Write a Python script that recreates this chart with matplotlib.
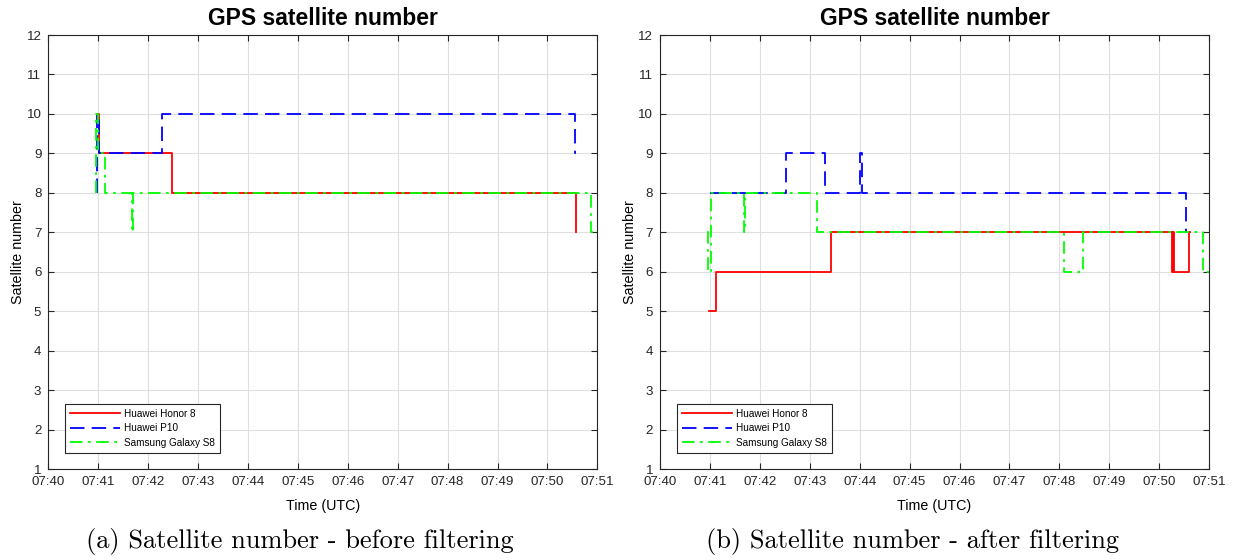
import matplotlib.pyplot as plt

# time in minutes after 07:40 (UTC), satellite counts given as step change points
honor8_raw_t = [0.99, 1.01, 2.48, 10.57, 10.58]
honor8_raw_n = [10, 9, 8, 7, 7]
p10_raw_t = [0.97, 0.98, 1.01, 2.27, 10.55, 10.57]
p10_raw_n = [8, 10, 9, 10, 9, 9]
s8_raw_t = [0.95, 0.96, 1.00, 1.13, 1.68, 1.70, 10.87, 11.0]
s8_raw_n = [8, 10, 9, 8, 7, 8, 7, 7]

honor8_filt_t = [0.99, 1.12, 3.42, 10.26, 10.28, 10.30, 10.59, 10.61]
honor8_filt_n = [5, 6, 7, 6, 7, 6, 7, 7]
p10_filt_t = [1.00, 2.53, 3.30, 4.00, 4.04, 10.53, 10.56]
p10_filt_n = [8, 9, 8, 9, 8, 7, 7]
s8_filt_t = [0.95, 0.97, 1.02, 1.68, 1.70, 3.15, 8.10, 8.47, 10.87, 11.0]
s8_filt_n = [7, 6, 8, 7, 8, 7, 6, 7, 6, 6]

time_labels = ['07:40', '07:41', '07:42', '07:43', '07:44', '07:45',
               '07:46', '07:47', '07:48', '07:49', '07:50', '07:51']
device_names = ['Huawei Honor 8', 'Huawei P10', 'Samsung Galaxy S8']
captions = ['(a) Satellite number - before filtering',
            '(b) Satellite number - after filtering']

plt.rcParams['font.family'] = ['Liberation Sans', 'DejaVu Sans']

fig = plt.figure(figsize=(12.33, 5.6), dpi=100)
ax_a = fig.add_axes([0.0392, 0.1625, 0.4453, 0.775])
ax_b = fig.add_axes([0.5353, 0.1625, 0.4453, 0.775])

panels = [
    (ax_a, [(honor8_raw_t, honor8_raw_n), (p10_raw_t, p10_raw_n), (s8_raw_t, s8_raw_n)]),
    (ax_b, [(honor8_filt_t, honor8_filt_n), (p10_filt_t, p10_filt_n), (s8_filt_t, s8_filt_n)]),
]
styles = [
    dict(color='#ff0000', linestyle='-'),
    dict(color='#0000ff', linestyle=(0, (8, 4))),
    dict(color='#00ff00', linestyle=(0, (7, 3, 1.5, 3))),
]
caption_x = [0.2433, 0.7397]

for (ax, series), caption, cx in zip(panels, captions, caption_x):
    for (t, n), st, name in zip(series, styles, device_names):
        ax.plot(t, n, drawstyle='steps-post', lw=1.3, label=name, **st)

    ax.set_xlim(0, 11)
    ax.set_ylim(1, 12)
    ax.set_xticks(range(len(time_labels)))
    ax.set_xticklabels(time_labels)
    ax.set_yticks(range(1, 13))
    ax.grid(True, color='#dfdfdf', linewidth=0.8)
    ax.set_axisbelow(True)
    ax.tick_params(direction='in', length=4, width=0.8, colors='#262626',
                   labelsize=9.6, top=True, right=True, pad=5)
    for sp in ax.spines.values():
        sp.set_color('#262626')
        sp.set_linewidth(0.8)

    ax.set_title('GPS satellite number', fontsize=16.5, fontweight='bold', pad=7)
    ax.set_xlabel('Time (UTC)', fontsize=10.3, labelpad=8)
    ax.set_ylabel('Satellite number', fontsize=10.3, labelpad=1)

    leg = ax.legend(loc='lower left', bbox_to_anchor=(0.031, 0.038),
                    fontsize=7.2, handlelength=5.0, borderaxespad=0,
                    fancybox=False, framealpha=1, edgecolor='#262626',
                    labelspacing=0.45, handletextpad=0.4, borderpad=0.5)
    leg.get_frame().set_linewidth(0.8)

    fig.text(cx, 0.0214, caption, ha='center', va='baseline',
             fontsize=19, family='cmr10')

fig.savefig('out.png', dpi=100)
